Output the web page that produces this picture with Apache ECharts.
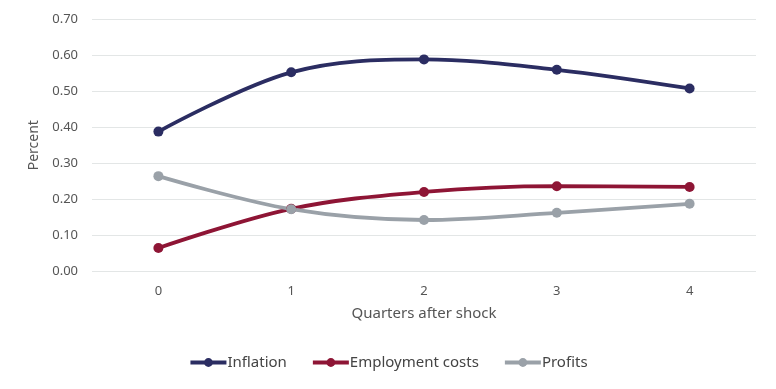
<!DOCTYPE html>
<html><head><meta charset="utf-8">
<script src="https://cdn.jsdelivr.net/npm/echarts@6/dist/echarts.min.js"></script>
<style>html,body{margin:0;padding:0;background:#fff}#c{width:776px;height:389px}</style>
</head><body><div id="c"></div>
<script>
const categories = ['0','1','2','3','4'];
const inflation = [0.388, 0.553, 0.589, 0.560, 0.508];
const employment = [0.064, 0.173, 0.220, 0.236, 0.234];
const profits = [0.264, 0.172, 0.142, 0.162, 0.187];

const font = '"Noto Sans", sans-serif';
const chart = echarts.init(document.getElementById('c'));
function s(name, data, color) {
  return {name, type:'line', data, smooth:0.35, symbol:'circle', symbolSize:10,
    lineStyle:{width:3.8, color}, itemStyle:{color}};
}
chart.setOption({
  animation:false,
  grid:{left:92, right:20, top:19.5, bottom:118},
  legend:{bottom:14, left:'center', itemGap:24, itemWidth:36, itemHeight:11,
    lineStyle:{width:4},
    textStyle:{fontFamily:font, fontSize:15, color:'#444', padding:[0,0,0,-4]}},
  xAxis:{type:'category', data:categories, name:'Quarters after shock', nameLocation:'middle', nameGap:35,
    nameTextStyle:{fontFamily:font, fontSize:15, color:'#555'},
    axisLine:{show:false}, axisTick:{show:false},
    axisLabel:{fontFamily:font, fontSize:13, color:'#555', margin:14}},
  yAxis:{type:'value', min:0, max:0.7, interval:0.1, name:'Percent', nameLocation:'middle', nameGap:48,
    nameTextStyle:{fontFamily:font, fontSize:14, color:'#555'},
    axisLabel:{fontFamily:font, fontSize:13, color:'#555', margin:14, formatter:v=>v.toFixed(2)},
    splitLine:{lineStyle:{color:'#e3e6e6', width:1}}},
  series:[s('Inflation', inflation, '#2b2d62'), s('Employment costs', employment, '#8e1535'), s('Profits', profits, '#9aa1a8')]
});
</script></body></html>
